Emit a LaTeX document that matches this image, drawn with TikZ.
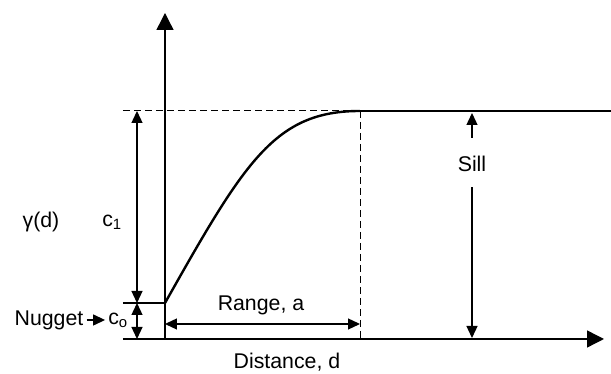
\documentclass[tikz,border=0pt]{standalone}
\usepackage{fontspec}
\setmainfont{Liberation Sans}
\usetikzlibrary{arrows.meta}
\tikzset{
  axisline/.style={line width=1.4pt,-{Triangle[length=17pt,width=17pt]}},
  dimline/.style={line width=1.3pt,{Triangle[length=12pt,width=11pt]}-{Triangle[length=12pt,width=11pt]}},
  oneway/.style={line width=1.3pt,-{Triangle[length=12pt,width=11pt]}},
  lbl/.style={font=\fontsize{21.3}{25}\selectfont,inner sep=1pt},
}
\begin{document}
\begin{tikzpicture}[x=1pt,y=1pt]
  \useasboundingbox (-165,-35) rectangle (446,339);

  \coordinate (O) at (0,0);
  \coordinate (xend) at (439,0);
  \coordinate (yend) at (0,326);
  \coordinate (nug) at (0,36);
  \coordinate (rng) at (195,228);
  \coordinate (rngfoot) at (195,0);

  % axes
  \draw[axisline] (-42,0) -- (xend);
  \draw[axisline] (O) -- (yend);

  % variogram curve and sill
  \draw[line width=2.4pt] (nug) .. controls (80,178) and (110,228) .. (rng);
  \draw[line width=2.4pt] (rng) -- (446,228);
  \draw[line width=1pt,dash pattern=on 7pt off 4pt] (-42,228) -- (rng);
  \draw[line width=1pt,dash pattern=on 7pt off 4pt] (rng) -- (rngfoot);
  \draw[line width=1.3pt] (-42,36) -- (nug);

  % dimensions
  \draw[dimline] (-28,228) -- (-28,36);
  \draw[dimline] (-28,36) -- (-28,0);
  \draw[dimline] (0,15) -- (195,15);

  % labels
  \node[lbl] (gam) at (-124,117) {γ(d)};
  \node[lbl] (cone) at (-53,117) {c\textsubscript{1}};
  \node[lbl] (nugget) at (-116,19) {Nugget};
  \node[lbl] (czero) at (-47,19) {c\textsubscript{o}};
  \draw[oneway,shorten <=2pt,shorten >=2pt] (nugget) -- (czero);
  \node[lbl] (range) at (96,34) {Range, a};
  \node[lbl] (sill) at (307,175) {Sill};
  \coordinate (sillup) at (307,226);
  \coordinate (silldown) at (307,1);
  \draw[oneway] ([yshift=17pt]sill.north) -- (sillup);
  \draw[oneway] ([yshift=-14pt]sill.south) -- (silldown);
  \node[lbl] (dist) at (122,-23) {Distance, d};
\end{tikzpicture}
\end{document}
